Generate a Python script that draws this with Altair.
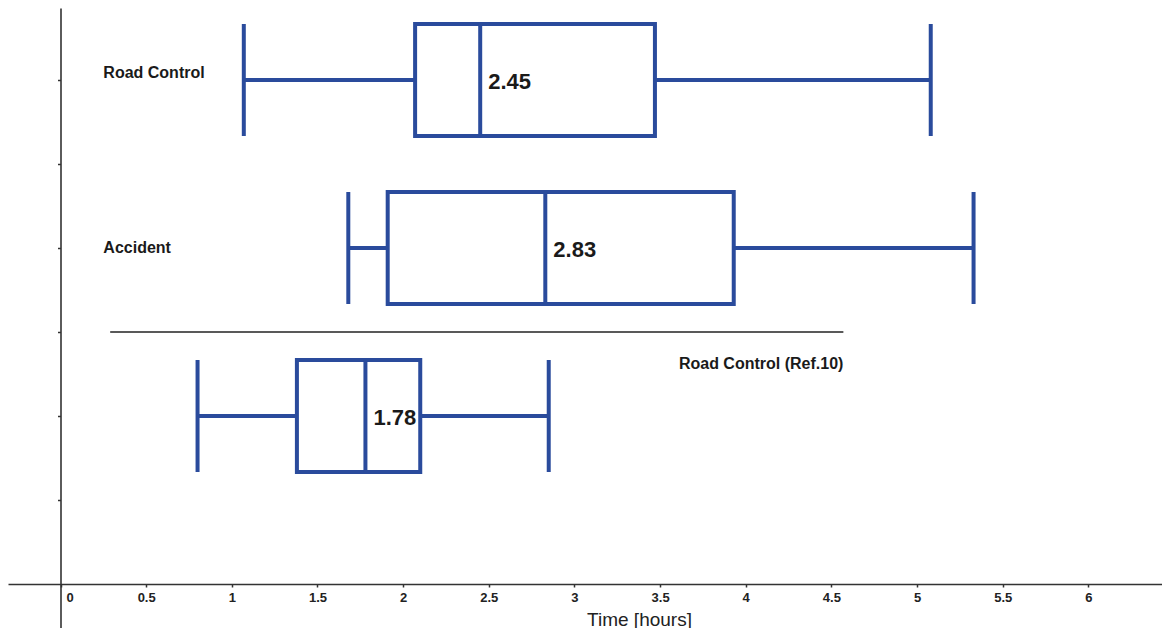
import altair as alt
import pandas as pd

# ---- data ----
groups = ["Road Control", "Accident", "Road Control (Ref.10)"]
row_pos = [3.0, 2.0, 1.0]
whisker_low = [1.07, 1.68, 0.80]
q1 = [2.07, 1.91, 1.38]
median = [2.45, 2.83, 1.78]
q3 = [3.47, 3.93, 2.10]
whisker_high = [5.08, 5.33, 2.85]
median_labels = ["2.45", "2.83", "1.78"]

# group label anchors (data units)
label_x = [0.25, 0.25, 4.57]
label_y = [3.04, 2.0, 1.31]
label_align = ["left", "left", "right"]

# separator line between studies
sep_x = [0.29]
sep_x2 = [4.57]
sep_y = [1.5]

x_ticks = [0, 0.5, 1, 1.5, 2, 2.5, 3, 3.5, 4, 4.5, 5, 5.5, 6]
y_ticks = [0.5, 1, 1.5, 2, 2.5, 3]

HALF = 1 / 3
BLUE = "#2a4b9c"
AXC = "#333333"
FONT = "Liberation Sans"

W, H = 1154, 620
x_dom = [-0.3065, 6.430]
y_dom = [-0.2619, 3.4286]

df = pd.DataFrame({
    "group": groups, "pos": row_pos, "lo": whisker_low, "q1": q1,
    "med": median, "q3": q3, "hi": whisker_high, "mlab": median_labels,
})
df["ylo"] = df["pos"] - HALF
df["yhi"] = df["pos"] + HALF

lab = pd.DataFrame({"text": groups, "x": label_x, "y": label_y, "align": label_align})
sep = pd.DataFrame({"x": sep_x, "x2": sep_x2, "y": sep_y})

x_axis = alt.Axis(
    values=x_ticks, format="~g", offset=-44, grid=False,
    domainColor=AXC, domainWidth=1.6, tickColor=AXC, tickWidth=1.5, tickSize=3,
    labelFont=FONT, labelFontSize=13, labelFontWeight="bold", labelColor="#222222",
    labelPadding=4, labelOffset={"condition": {"test": "datum.value === 0", "value": 9}, "value": 0},
    labelFlush=False, labelOverlap=False,
    title="Time [hours]", titleFont=FONT, titleFontSize=19, titleFontWeight="normal",
    titleColor="#222222", titleX=631, titleY=41, titleBaseline="alphabetic",
    titleAnchor="middle", titleAlign="center",
)
y_axis = alt.Axis(
    values=y_ticks, labels=False, offset=-52.5, grid=False, title=None,
    domainColor=AXC, domainWidth=1.6, tickColor=AXC, tickWidth=1.5, tickSize=3,
)

xs = alt.Scale(domain=x_dom, nice=False, zero=False)
ys = alt.Scale(domain=y_dom, nice=False, zero=False)

base = alt.Chart(df)

boxes = base.mark_rect(fill="white", stroke=BLUE, strokeWidth=4).encode(
    x=alt.X("q1:Q", scale=xs, axis=x_axis),
    x2="q3:Q",
    y=alt.Y("ylo:Q", scale=ys, axis=y_axis),
    y2="yhi:Q",
)
med_rule = base.mark_rule(color=BLUE, strokeWidth=4).encode(
    x="med:Q", y="ylo:Q", y2="yhi:Q")
whisk_l = base.mark_rule(color=BLUE, strokeWidth=4).encode(
    x="lo:Q", x2="q1:Q", y="pos:Q")
whisk_r = base.mark_rule(color=BLUE, strokeWidth=4).encode(
    x="q3:Q", x2="hi:Q", y="pos:Q")
cap_l = base.mark_rule(color=BLUE, strokeWidth=4).encode(
    x="lo:Q", y="ylo:Q", y2="yhi:Q")
cap_r = base.mark_rule(color=BLUE, strokeWidth=4).encode(
    x="hi:Q", y="ylo:Q", y2="yhi:Q")
med_text = base.mark_text(
    align="left", baseline="middle", dx=8, dy=2, font=FONT, fontSize=22,
    fontWeight="bold", color="#1a1a1a").encode(
    x="med:Q", y="pos:Q", text="mlab:N")

lab_left = alt.Chart(lab).transform_filter("datum.align == 'left'").mark_text(
    align="left", baseline="middle", font=FONT, fontSize=16, fontWeight="bold",
    color="#1a1a1a").encode(x="x:Q", y="y:Q", text="text:N")
lab_right = alt.Chart(lab).transform_filter("datum.align == 'right'").mark_text(
    align="right", baseline="middle", font=FONT, fontSize=16, fontWeight="bold",
    color="#1a1a1a").encode(x="x:Q", y="y:Q", text="text:N")

separator = alt.Chart(sep).mark_rule(color="#222222", strokeWidth=1.5).encode(
    x="x:Q", x2="x2:Q", y="y:Q")

chart = alt.layer(
    boxes, separator, whisk_l, whisk_r, cap_l, cap_r, med_rule, med_text,
    lab_left, lab_right,
).properties(
    width=W, height=H, padding=0, background="white",
    autosize=alt.AutoSizeParams(type="none"),
).configure_view(strokeWidth=0, stroke="transparent")

chart.save("out.html", embed_options={"renderer": "svg", "actions": False})
